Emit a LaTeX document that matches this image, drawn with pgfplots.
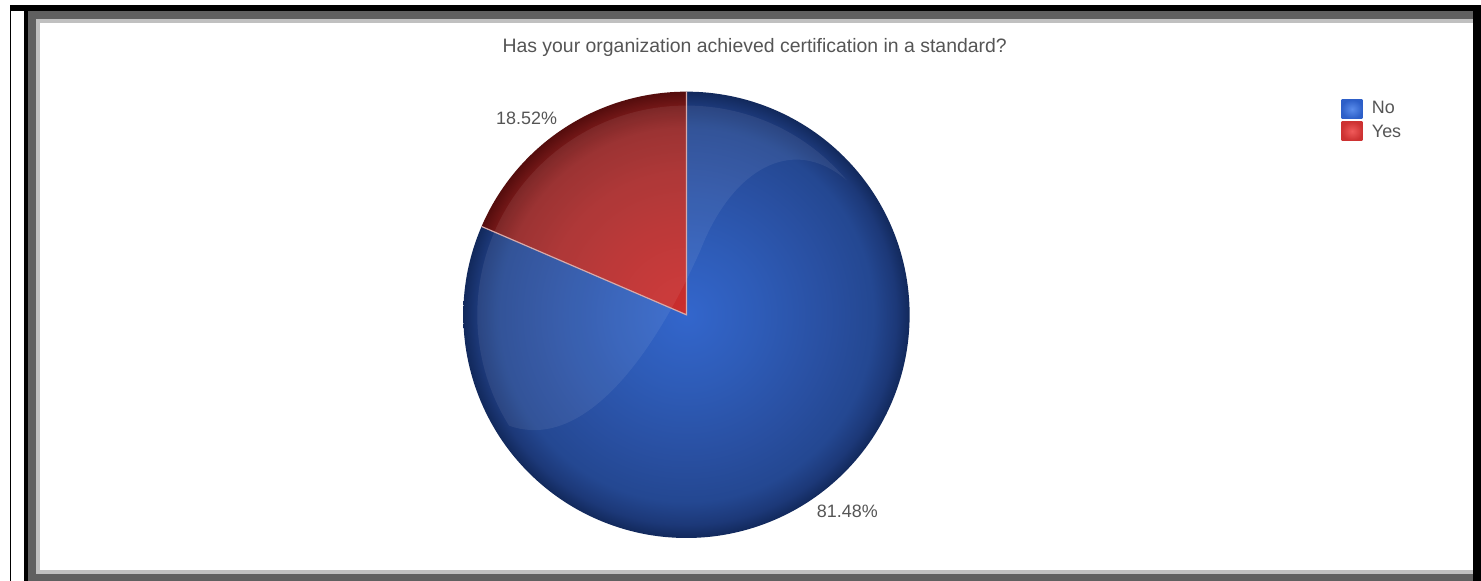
\documentclass[border=0pt]{standalone}
\usepackage{fontspec}
\setmainfont{Liberation Sans}
\usepackage{pgfplots}
\usepackage{pgfplotstable}
\pgfplotsset{compat=1.18}

\definecolor{txtgray}{RGB}{85,85,85}
\definecolor{darkframe}{RGB}{96,96,96}
\definecolor{lightframe}{RGB}{192,192,192}
\definecolor{sepline}{RGB}{215,170,170}

% radial shadings: 25bp is the edge of the shaded circle
\pgfdeclareradialshading{blueball}{\pgfpoint{0bp}{0bp}}{%
  rgb(0bp)=(0.20,0.40,0.80);
  rgb(8bp)=(0.18,0.36,0.72);
  rgb(16bp)=(0.16,0.31,0.63);
  rgb(21bp)=(0.14,0.28,0.57);
  rgb(23.5bp)=(0.11,0.22,0.47);
  rgb(25bp)=(0.07,0.16,0.36);
  rgb(50bp)=(0.07,0.16,0.36)}
\pgfdeclareradialshading{redball}{\pgfpoint{0bp}{0bp}}{%
  rgb(0bp)=(0.80,0.18,0.18);
  rgb(8bp)=(0.74,0.17,0.17);
  rgb(16bp)=(0.66,0.16,0.16);
  rgb(21bp)=(0.58,0.14,0.14);
  rgb(23.5bp)=(0.45,0.09,0.09);
  rgb(25bp)=(0.33,0.05,0.05);
  rgb(50bp)=(0.33,0.05,0.05)}

\pgfplotstableread{
label value
No 81.48
Yes 18.52
}\piedata

\begin{document}
\pgfplotstablegetelem{0}{value}\of\piedata \let\vNo\pgfplotsretval
\pgfplotstablegetelem{1}{value}\of\piedata \let\vYes\pgfplotsretval
% Yes runs counter-clockwise from 12 o'clock, No takes the rest
\pgfmathsetmacro\aYes{90+3.6*\vYes}
\pgfmathsetmacro\aNo{\aYes+3.6*\vNo}
\begin{tikzpicture}
\begin{axis}[
    width=1481bp, height=583bp,
    scale only axis,
    xmin=0, xmax=1481,
    ymin=0, ymax=583,
    hide axis,
    clip=false,
]
\addplot[draw=none] coordinates {(0,0) (1481,583)};

% frame
\fill[white] (axis cs:0,0) rectangle (axis cs:1481,583);
\fill[black] (axis cs:4,0) rectangle (axis cs:6,578);
\fill[black] (axis cs:4,572) rectangle (axis cs:1481,578);
\fill[black] (axis cs:19,0) rectangle (axis cs:23,572);
\fill[black] (axis cs:1473,0) rectangle (axis cs:1481,572);
\fill[darkframe] (axis cs:23,564) rectangle (axis cs:1473,572);
\fill[darkframe] (axis cs:23,0) rectangle (axis cs:31,564);
\fill[darkframe] (axis cs:23,0) rectangle (axis cs:1473,7);
\fill[lightframe] (axis cs:31,560) rectangle (axis cs:1473,564);
\fill[lightframe] (axis cs:31,7) rectangle (axis cs:35,560);
\fill[lightframe] (axis cs:31,7) rectangle (axis cs:1473,11);

% pie
\coordinate (C) at (axis cs:683.5,267);
\begin{scope}
  \clip (C) -- ++(\aYes:224bp) arc[start angle=\aYes, end angle=\aNo, radius=224bp] -- cycle;
  \shade[shading=blueball] (C) circle[radius=224bp];
\end{scope}
\begin{scope}
  \clip (C) -- ++(90:224bp) arc[start angle=90, end angle=\aYes, radius=224bp] -- cycle;
  \shade[shading=redball] (C) circle[radius=224bp];
\end{scope}
% gloss
\fill[white, opacity=0.07] (axis cs:844.4,402)
  arc[start angle=40, end angle=212, radius=210bp]
  .. controls (axis cs:578,130) and (axis cs:648,220) .. (axis cs:698,333)
  .. controls (axis cs:728,410) and (axis cs:788,450) .. (axis cs:844.4,402);
\draw[sepline, line width=1.2bp] (C) ++(90:224bp) -- (C) -- ++(\aYes:224bp);

% texts
\node[txtgray, font=\fontsize{19.5bp}{22bp}\selectfont] at (axis cs:752,535)
  {Has your organization achieved certification in a standard?};
\node[txtgray, font=\fontsize{18bp}{21bp}\selectfont] at (axis cs:523,464) {18.52\%};
\node[txtgray, font=\fontsize{18bp}{21bp}\selectfont] at (axis cs:845,70) {81.48\%};

% legend
\shade[inner color={rgb,255:red,90;green,140;blue,235}, outer color={rgb,255:red,45;green,95;blue,200}]
  (axis cs:1341,464) rectangle (axis cs:1362,483);
\shade[inner color={rgb,255:red,240;green,90;blue,90}, outer color={rgb,255:red,205;green,50;blue,50}]
  (axis cs:1341,442) rectangle (axis cs:1362,461);
\node[txtgray, anchor=west, font=\fontsize{18bp}{21bp}\selectfont] at (axis cs:1368,475) {No};
\node[txtgray, anchor=west, font=\fontsize{18bp}{21bp}\selectfont] at (axis cs:1368,451) {Yes};
\end{axis}
\end{tikzpicture}
\end{document}
